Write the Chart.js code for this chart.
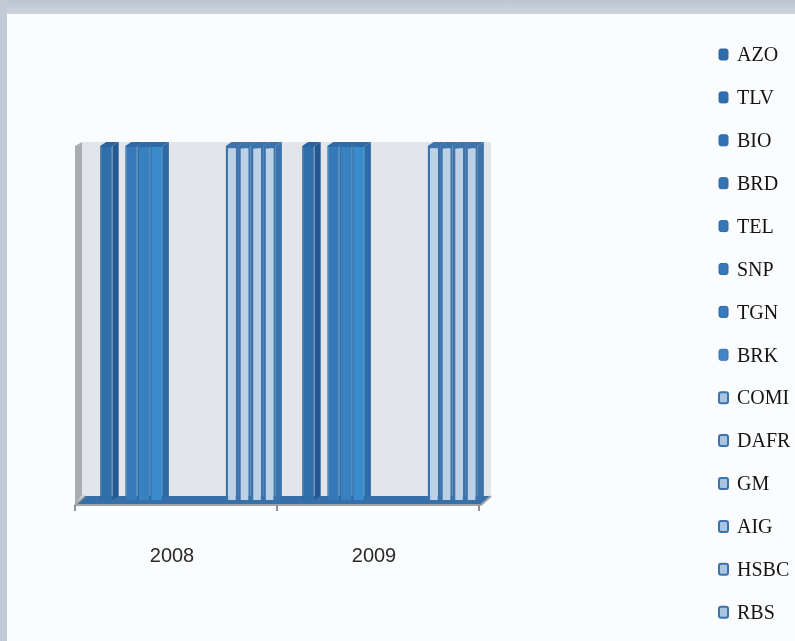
<!DOCTYPE html>
<html>
<head>
<meta charset="utf-8">
<script src="https://cdn.jsdelivr.net/npm/chart.js@4.4.1/dist/chart.umd.min.js"></script>
<style>
  html, body { margin: 0; padding: 0; width: 795px; height: 641px; overflow: hidden; background: #fbfcfd; }
  .frame-top { position: absolute; left: 0; top: 0; width: 795px; height: 14px; background: linear-gradient(#bcc5d1, #cdd4de); }
  .frame-left { position: absolute; left: 0; top: 0; width: 7px; height: 641px; background: #c3cbd6; }
  canvas { position: absolute; left: 0; top: 0; }
</style>
</head>
<body>
<div class="frame-top"></div>
<div class="frame-left"></div>
<canvas id="chart" width="795" height="641"></canvas>
<script>
// Categories and series
const years = ['2008', '2009'];
const tickers = ['AZO', 'TLV', 'BIO', 'BRD', 'TEL', 'SNP', 'TGN', 'BRK', 'COMI', 'DAFR', 'GM', 'AIG', 'HSBC', 'RBS'];
// one value per ticker, same order as tickers
const values2008 = [1, 0, 1, 1, 1, 0, 0, 0, 0, 0, 1, 1, 1, 1];
const values2009 = [1, 0, 1, 1, 1, 0, 0, 0, 0, 0, 1, 1, 1, 1];

// Styling per ticker
const fills   = ['#2f6ea8', '#3174b2', '#3579b8', '#3781c0', '#3a8bcb', '#3a86c4', '#3a86c4', '#4a8ccb',
                 '#bcd1e6', '#bcd1e6', '#bcd1e6', '#bcd1e6', '#bcd1e6', '#bcd1e6'];
const borders = ['#2a649e', '#2c69a5', '#2d6aa6', '#2d6aa6', '#2d6aa6', '#2d6aa6', '#2d6aa6', '#3576b6',
                 '#3c73ac', '#3c73ac', '#3c73ac', '#3c73ac', '#3c73ac', '#3c73ac'];
const sides   = ['#24598f', '#275f97', '#2a649e', '#2b67a2', '#2d6ba8', '#2d6ba8', '#2d6ba8', '#3372b0',
                 '#3c73ac', '#3c73ac', '#3c73ac', '#3c73ac', '#3c73ac', '#3c73ac'];
const legendFills = ['#2f6cad', '#2f6fb0', '#3172b3', '#3474b5', '#3577b8', '#3679ba', '#377bbc', '#4386c6',
                     '#a9c5e2', '#a9c5e2', '#a9c5e2', '#a9c5e2', '#a9c5e2', '#a9c5e2'];

const depthX = 6, depthY = 4;

// Walls, floor and the 3D faces of each bar
const scene3d = {
  id: 'scene3d',
  beforeDatasetsDraw(chart) {
    const { ctx, chartArea: a } = chart;
    ctx.save();
    // back wall
    ctx.fillStyle = '#e2e6eb';
    ctx.fillRect(a.left - 5, a.top - depthY, a.right - a.left + 5, a.bottom - a.top);
    // left side wall
    ctx.fillStyle = '#a9adb1';
    ctx.beginPath();
    ctx.moveTo(a.left - 12, a.top);
    ctx.lineTo(a.left - 5, a.top - depthY);
    ctx.lineTo(a.left - 5, a.bottom - depthY);
    ctx.lineTo(a.left - 12, a.bottom + 4);
    ctx.closePath();
    ctx.fill();
    // floor
    ctx.fillStyle = '#3770a8';
    ctx.beginPath();
    ctx.moveTo(a.left - 12, a.bottom + 4);
    ctx.lineTo(a.left - 2, a.bottom - depthY);
    ctx.lineTo(a.right, a.bottom - depthY);
    ctx.lineTo(a.right - 10, a.bottom + 4);
    ctx.closePath();
    ctx.fill();
    // front edge of the floor
    ctx.strokeStyle = '#a0a4a8';
    ctx.lineWidth = 2;
    ctx.beginPath();
    ctx.moveTo(a.left - 12, a.bottom + 5);
    ctx.lineTo(a.right - 10, a.bottom + 5);
    ctx.lineTo(a.right, a.bottom - depthY);
    ctx.moveTo(a.left - 12, a.bottom + 5);
    ctx.lineTo(a.left - 2, a.bottom - depthY);
    ctx.stroke();
    // category tick marks
    const xs = chart.scales.x;
    ctx.strokeStyle = '#8e9296';
    ctx.beginPath();
    for (let k = 0; k <= years.length; k++) {
      const px = xs.getPixelForValue(k - 0.5) - 12;
      ctx.moveTo(px, a.bottom + 5);
      ctx.lineTo(px, a.bottom + 11);
    }
    ctx.stroke();
    // bar tops and right sides
    chart.data.datasets.forEach((ds, i) => {
      const meta = chart.getDatasetMeta(i);
      meta.data.forEach((bar, j) => {
        if (!ds.data[j]) return;
        const { x, y, base, width } = bar.getProps(['x', 'y', 'base', 'width'], true);
        const l = x - width / 2, r = x + width / 2;
        ctx.fillStyle = sides[i];
        ctx.beginPath();
        ctx.moveTo(r, y);
        ctx.lineTo(r + depthX, y - depthY);
        ctx.lineTo(r + depthX, base - depthY);
        ctx.lineTo(r, base);
        ctx.closePath();
        ctx.fill();
        ctx.fillStyle = borders[i];
        ctx.beginPath();
        ctx.moveTo(l, y);
        ctx.lineTo(l + depthX, y - depthY);
        ctx.lineTo(r + depthX, y - depthY);
        ctx.lineTo(r, y);
        ctx.closePath();
        ctx.fill();
      });
    });
    ctx.restore();
  }
};

// Legend column on the right, clipped by the canvas edge
const sideLegend = {
  id: 'sideLegend',
  afterDraw(chart) {
    const { ctx } = chart;
    const boxX = 719, textX = 737, y0 = 55, step = 42.9;
    ctx.save();
    ctx.font = '20px "Liberation Serif", serif';
    ctx.textBaseline = 'middle';
    ctx.textAlign = 'left';
    chart.data.datasets.forEach((ds, i) => {
      const cy = y0 + step * i;
      ctx.fillStyle = legendFills[i];
      ctx.beginPath();
      ctx.roundRect(boxX, cy - 6, 9, 11, 2);
      ctx.fill();
      ctx.strokeStyle = borders[i];
      ctx.lineWidth = i >= 8 ? 2 : 1;
      ctx.stroke();
      ctx.fillStyle = '#141414';
      ctx.fillText(ds.label, textX, cy + 1);
    });
    ctx.restore();
  }
};

new Chart(document.getElementById('chart'), {
  type: 'bar',
  data: {
    labels: years,
    datasets: tickers.map((name, i) => ({
      label: name,
      data: [values2008[i], values2009[i]],
      backgroundColor: fills[i],
      borderColor: borders[i],
      borderWidth: i >= 8 ? 2.5 : 1,
      categoryPercentage: 0.87,
      barPercentage: 1.0
    }))
  },
  options: {
    responsive: false,
    animation: false,
    layout: { padding: { top: 146, left: 87, right: 304, bottom: 29 } },
    plugins: { legend: { display: false }, tooltip: { enabled: false } },
    scales: {
      x: {
        grid: { display: false, drawTicks: false },
        border: { display: false },
        ticks: {
          color: '#2a2a2a',
          font: { family: '"Liberation Sans", Arial, sans-serif', size: 20 },
          padding: 44,
          labelOffset: -16
        }
      },
      y: { display: false, min: 0, max: 1 }
    }
  },
  plugins: [scene3d, sideLegend]
});
</script>
</body>
</html>
